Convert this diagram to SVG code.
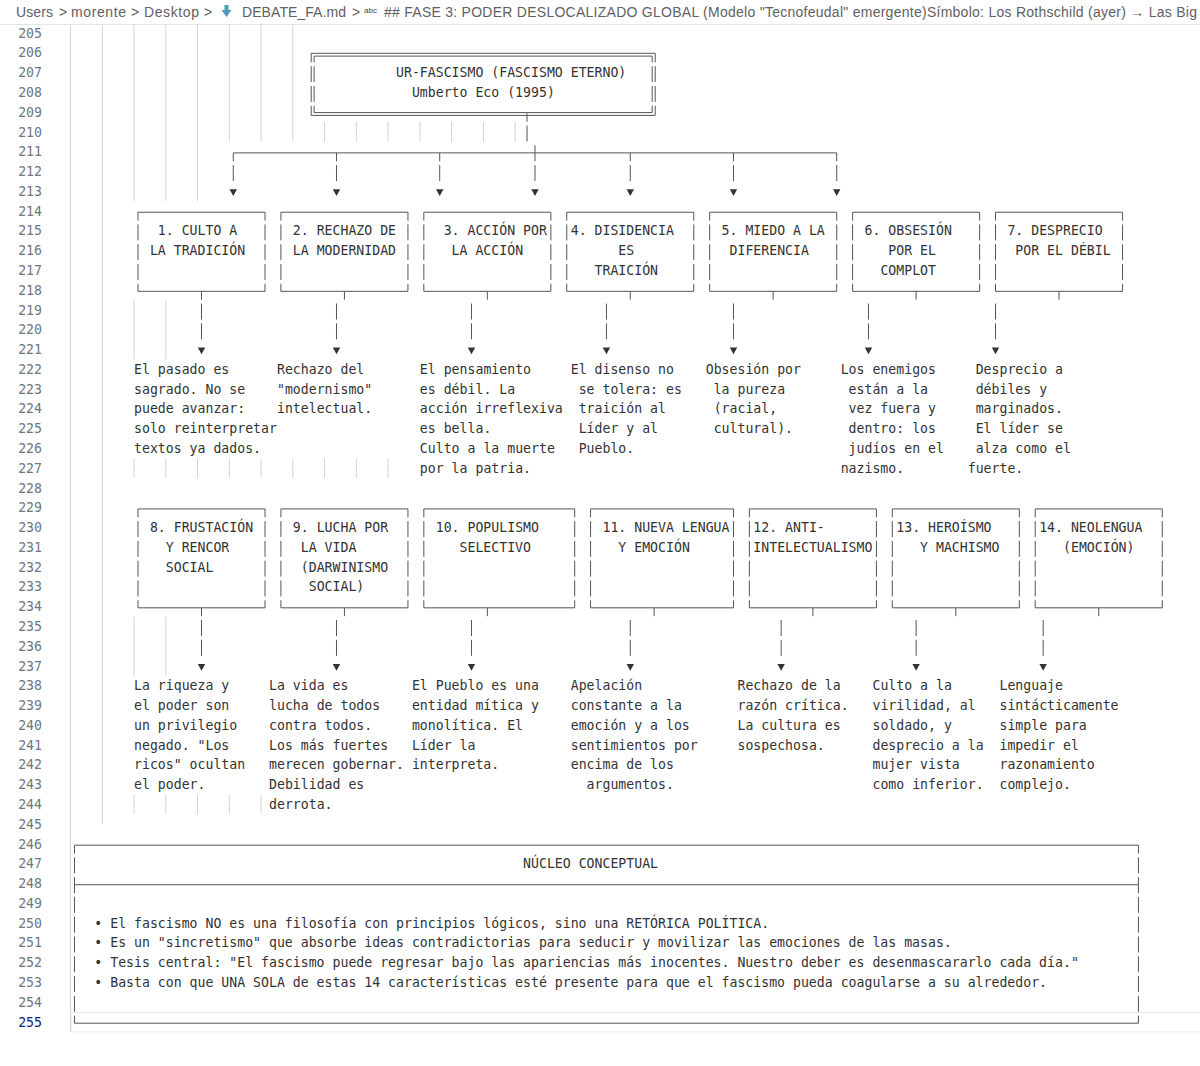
<svg xmlns="http://www.w3.org/2000/svg" xmlns:xlink="http://www.w3.org/1999/xlink" width="1200" height="1066" viewBox="0 0 1200 1066">
<style>
.t{font-family:"DejaVu Sans Mono","Liberation Mono",monospace;font-size:13.2px;fill:#333}
.ln{font-family:"DejaVu Sans Mono","Liberation Mono",monospace;font-size:13.2px;fill:#6e7681;text-anchor:end}
.bc{font-family:"Liberation Sans",Arial,sans-serif;font-size:14px;fill:#616161}
.g{stroke:#d4d4d4;stroke-width:1;fill:none}
.h{stroke:#555;stroke-width:1;fill:none}
.v{stroke:#555;stroke-width:1;fill:none;stroke-dasharray:15.98 3.8;stroke-dashoffset:7.59}
.v0{stroke:#555;stroke-width:1;fill:none;stroke-dasharray:15.98 3.8}
.ar{fill:#333}
</style>
<defs>
<path id="tri" d="M-3.7,-1.9 L3.7,-1.9 L0,4.8 Z"/>
</defs>
<rect width="1200" height="1066" fill="#fff"/>

<g id="chrome">
<text class="bc" x="16" y="17" textLength="37">Users</text>
<text class="bc" x="59" y="17" font-size="13">&gt;</text>
<text class="bc" x="71" y="17" textLength="55">morente</text>
<text class="bc" x="131" y="17" font-size="13">&gt;</text>
<text class="bc" x="144" y="17" textLength="55">Desktop</text>
<text class="bc" x="204" y="17" font-size="13">&gt;</text>
<path d="M224.5,5 H228.5 V10 H231.5 L226.5,17 L221.5,10 H224.5 Z" fill="#519aba"/>
<text class="bc" x="242" y="17" textLength="104">DEBATE_FA.md</text>
<text class="bc" x="352" y="17" font-size="13">&gt;</text>
<text x="364" y="13" font-family="Liberation Sans,Arial,sans-serif" font-size="8" fill="#424242">abc</text>
<text class="bc" x="384" y="17" textLength="813">## FASE 3: PODER DESLOCALIZADO GLOBAL (Modelo "Tecnofeudal" emergente)Símbolo: Los Rothschild (ayer) → Las Big</text>
<line x1="0" y1="24.5" x2="1200" y2="24.5" stroke="#e5e5e5"/>
<rect x="71" y="1012.5" width="1135" height="19.3" fill="none" stroke="#eaeaea"/>
</g>

<g id="line-numbers">
<text class="ln" x="42" y="37.6">205</text>
<text class="ln" x="42" y="57.38">206</text>
<text class="ln" x="42" y="77.16">207</text>
<text class="ln" x="42" y="96.94">208</text>
<text class="ln" x="42" y="116.72">209</text>
<text class="ln" x="42" y="136.5">210</text>
<text class="ln" x="42" y="156.28">211</text>
<text class="ln" x="42" y="176.06">212</text>
<text class="ln" x="42" y="195.84">213</text>
<text class="ln" x="42" y="215.62">214</text>
<text class="ln" x="42" y="235.4">215</text>
<text class="ln" x="42" y="255.18">216</text>
<text class="ln" x="42" y="274.96">217</text>
<text class="ln" x="42" y="294.74">218</text>
<text class="ln" x="42" y="314.52">219</text>
<text class="ln" x="42" y="334.3">220</text>
<text class="ln" x="42" y="354.08">221</text>
<text class="ln" x="42" y="373.86">222</text>
<text class="ln" x="42" y="393.64">223</text>
<text class="ln" x="42" y="413.42">224</text>
<text class="ln" x="42" y="433.2">225</text>
<text class="ln" x="42" y="452.98">226</text>
<text class="ln" x="42" y="472.76">227</text>
<text class="ln" x="42" y="492.54">228</text>
<text class="ln" x="42" y="512.32">229</text>
<text class="ln" x="42" y="532.1">230</text>
<text class="ln" x="42" y="551.88">231</text>
<text class="ln" x="42" y="571.66">232</text>
<text class="ln" x="42" y="591.44">233</text>
<text class="ln" x="42" y="611.22">234</text>
<text class="ln" x="42" y="631">235</text>
<text class="ln" x="42" y="650.78">236</text>
<text class="ln" x="42" y="670.56">237</text>
<text class="ln" x="42" y="690.34">238</text>
<text class="ln" x="42" y="710.12">239</text>
<text class="ln" x="42" y="729.9">240</text>
<text class="ln" x="42" y="749.68">241</text>
<text class="ln" x="42" y="769.46">242</text>
<text class="ln" x="42" y="789.24">243</text>
<text class="ln" x="42" y="809.02">244</text>
<text class="ln" x="42" y="828.8">245</text>
<text class="ln" x="42" y="848.58">246</text>
<text class="ln" x="42" y="868.36">247</text>
<text class="ln" x="42" y="888.14">248</text>
<text class="ln" x="42" y="907.92">249</text>
<text class="ln" x="42" y="927.7">250</text>
<text class="ln" x="42" y="947.48">251</text>
<text class="ln" x="42" y="967.26">252</text>
<text class="ln" x="42" y="987.04">253</text>
<text class="ln" x="42" y="1006.82">254</text>
<text class="ln" x="42" y="1026.6" fill="#0b216f" style="fill:#0b216f">255</text>
</g>

<g id="indent-guides">
<path class="g" d="M70.5,25 V1032 M102.3,25 V824"/>
<path class="g" d="M134,25 V201.1 M165.8,25 V201.1 M197.5,25 V201.1 M229.3,25 V141.8 M261.1,25 V141.8 M292.8,25 V141.8"/>
<path class="g" d="M324.6,122 V141.8 M356.3,122 V141.8 M388.1,122 V141.8 M419.9,122 V141.8 M451.6,122 V141.8 M483.4,122 V141.8 M515.1,122 V141.8"/>
<path class="g" d="M134,300 V359.4 M165.8,300 V359.4"/>
<path class="g" d="M134,458.3 V478.1 M165.8,458.3 V478.1 M197.5,458.3 V478.1 M229.3,458.3 V478.1 M261.1,458.3 V478.1 M292.8,458.3 V478.1 M324.6,458.3 V478.1 M356.3,458.3 V478.1 M388.1,458.3 V478.1"/>
<path class="g" d="M134,616.5 V675.9 M165.8,616.5 V675.9"/>
<path class="g" d="M134,794.5 V814.3 M165.8,794.5 V814.3 M197.5,794.5 V814.3 M229.3,794.5 V814.3 M261.1,794.5 V814.3"/>
</g>

<g id="top">
<path class="h" d="M311.2,53.3 H655.2 M314.1,56.1 H652.2 M311.2,115.4 H655.2 M314.1,112.6 H652.2"/>
<path class="v" style="stroke-dashoffset:6.89" d="M311.2,53.3 V115.4 M655.2,53.3 V115.4"/>
<path class="v" style="stroke-dashoffset:9.69" d="M314.1,56.1 V112.6 M652.2,56.1 V112.6"/>
<text class="t" x="396.04" y="77.16">UR-FASCISMO (FASCISMO ETERNO)</text>
<text class="t" x="411.92" y="96.94">Umberto Eco (1995)</text>
</g>

<g id="connectors">
<path class="v" d="M527.05,113.32 V141.49"/>
<path class="h" d="M233.27,152.88 H836.71"/>
<path class="v" d="M233.27,152.88 V181.05 M336.49,152.88 V181.05 M439.71,152.88 V181.05 M630.27,152.88 V181.05 M733.49,152.88 V181.05 M836.71,152.88 V181.05"/>
<path class="v0" d="M534.99,145.29 V181.05"/>
<g class="ar">
<use xlink:href="#tri" x="233.27" y="191.24"/><use xlink:href="#tri" x="336.49" y="191.24"/><use xlink:href="#tri" x="439.71" y="191.24"/><use xlink:href="#tri" x="534.99" y="191.24"/><use xlink:href="#tri" x="630.27" y="191.24"/><use xlink:href="#tri" x="733.49" y="191.24"/><use xlink:href="#tri" x="836.71" y="191.24"/>
</g>
<path class="h" d="M201.51,291.34 V299.73 M344.43,291.34 V299.73 M487.35,291.34 V299.73 M630.27,291.34 V299.73 M773.19,291.34 V299.73 M916.11,291.34 V299.73 M1059.03,291.34 V299.73"/>
<path class="v0" d="M201.51,303.53 V339.29 M336.49,303.53 V339.29 M471.47,303.53 V339.29 M606.45,303.53 V339.29 M733.49,303.53 V339.29 M868.47,303.53 V339.29 M995.51,303.53 V339.29"/>
<g class="ar">
<use xlink:href="#tri" x="201.51" y="349.48"/><use xlink:href="#tri" x="336.49" y="349.48"/><use xlink:href="#tri" x="471.47" y="349.48"/><use xlink:href="#tri" x="606.45" y="349.48"/><use xlink:href="#tri" x="733.49" y="349.48"/><use xlink:href="#tri" x="868.47" y="349.48"/><use xlink:href="#tri" x="995.51" y="349.48"/>
</g>
<path class="h" d="M201.51,607.82 V616.21 M344.43,607.82 V616.21 M487.35,607.82 V616.21 M654.09,607.82 V616.21 M812.89,607.82 V616.21 M955.81,607.82 V616.21 M1098.73,607.82 V616.21"/>
<path class="v0" d="M201.51,620.01 V655.77 M336.49,620.01 V655.77 M471.47,620.01 V655.77 M630.27,620.01 V655.77 M781.13,620.01 V655.77 M916.11,620.01 V655.77 M1043.15,620.01 V655.77"/>
<g class="ar">
<use xlink:href="#tri" x="201.51" y="665.96"/><use xlink:href="#tri" x="336.49" y="665.96"/><use xlink:href="#tri" x="471.47" y="665.96"/><use xlink:href="#tri" x="630.27" y="665.96"/><use xlink:href="#tri" x="781.13" y="665.96"/><use xlink:href="#tri" x="916.11" y="665.96"/><use xlink:href="#tri" x="1043.15" y="665.96"/>
</g>
</g>

<g id="n1">
<path class="h" d="M137.99,212.22 H265.03 M137.99,291.34 H265.03"/>
<path class="v" d="M137.99,212.22 V291.34 M265.03,212.22 V291.34"/>
<text class="t" x="157.84" y="235.4">1. CULTO A</text>
<text class="t" x="149.9" y="255.18">LA TRADICIÓN</text>
</g>
<g id="n2">
<path class="h" d="M280.91,212.22 H407.95 M280.91,291.34 H407.95"/>
<path class="v" d="M280.91,212.22 V291.34 M407.95,212.22 V291.34"/>
<text class="t" x="292.82" y="235.4">2. RECHAZO DE</text>
<text class="t" x="292.82" y="255.18">LA MODERNIDAD</text>
</g>
<g id="n3">
<path class="h" d="M423.83,212.22 H550.87 M423.83,291.34 H550.87"/>
<path class="v" d="M423.83,212.22 V291.34 M550.87,212.22 V291.34"/>
<text class="t" x="443.68" y="235.4">3. ACCIÓN POR</text>
<text class="t" x="451.62" y="255.18">LA ACCIÓN</text>
</g>
<g id="n4">
<path class="h" d="M566.75,212.22 H693.79 M566.75,291.34 H693.79"/>
<path class="v" d="M566.75,212.22 V291.34 M693.79,212.22 V291.34"/>
<text class="t" x="570.72" y="235.4">4. DISIDENCIA</text>
<text class="t" x="618.36" y="255.18">ES</text>
<text class="t" x="594.54" y="274.96">TRAICIÓN</text>
</g>
<g id="n5">
<path class="h" d="M709.67,212.22 H836.71 M709.67,291.34 H836.71"/>
<path class="v" d="M709.67,212.22 V291.34 M836.71,212.22 V291.34"/>
<text class="t" x="721.58" y="235.4">5. MIEDO A LA</text>
<text class="t" x="729.52" y="255.18">DIFERENCIA</text>
</g>
<g id="n6">
<path class="h" d="M852.59,212.22 H979.63 M852.59,291.34 H979.63"/>
<path class="v" d="M852.59,212.22 V291.34 M979.63,212.22 V291.34"/>
<text class="t" x="864.5" y="235.4">6. OBSESIÓN</text>
<text class="t" x="888.32" y="255.18">POR EL</text>
<text class="t" x="880.38" y="274.96">COMPLOT</text>
</g>
<g id="n7">
<path class="h" d="M995.51,212.22 H1122.55 M995.51,291.34 H1122.55"/>
<path class="v" d="M995.51,212.22 V291.34 M1122.55,212.22 V291.34"/>
<text class="t" x="1007.42" y="235.4">7. DESPRECIO</text>
<text class="t" x="1015.36" y="255.18">POR EL DÉBIL</text>
</g>

<g id="d1">
<text class="t" x="134.02" y="373.86">El pasado es</text>
<text class="t" x="134.02" y="393.64">sagrado. No se</text>
<text class="t" x="134.02" y="413.42">puede avanzar:</text>
<text class="t" x="134.02" y="433.2">solo reinterpretar</text>
<text class="t" x="134.02" y="452.98">textos ya dados.</text>
</g>
<g id="d2">
<text class="t" x="276.94" y="373.86">Rechazo del</text>
<text class="t" x="276.94" y="393.64">"modernismo"</text>
<text class="t" x="276.94" y="413.42">intelectual.</text>
</g>
<g id="d3">
<text class="t" x="419.86" y="373.86">El pensamiento</text>
<text class="t" x="419.86" y="393.64">es débil. La</text>
<text class="t" x="419.86" y="413.42">acción irreflexiva</text>
<text class="t" x="419.86" y="433.2">es bella.</text>
<text class="t" x="419.86" y="452.98">Culto a la muerte</text>
<text class="t" x="419.86" y="472.76">por la patria.</text>
</g>
<g id="d4">
<text class="t" x="570.72" y="373.86">El disenso no</text>
<text class="t" x="578.66" y="393.64">se tolera: es</text>
<text class="t" x="578.66" y="413.42">traición al</text>
<text class="t" x="578.66" y="433.2">Líder y al</text>
<text class="t" x="578.66" y="452.98">Pueblo.</text>
</g>
<g id="d5">
<text class="t" x="705.7" y="373.86">Obsesión por</text>
<text class="t" x="713.64" y="393.64">la pureza</text>
<text class="t" x="713.64" y="413.42">(racial,</text>
<text class="t" x="713.64" y="433.2">cultural).</text>
</g>
<g id="d6">
<text class="t" x="840.68" y="373.86">Los enemigos</text>
<text class="t" x="848.62" y="393.64">están a la</text>
<text class="t" x="848.62" y="413.42">vez fuera y</text>
<text class="t" x="848.62" y="433.2">dentro: los</text>
<text class="t" x="848.62" y="452.98">judíos en el</text>
<text class="t" x="840.68" y="472.76">nazismo.</text>
</g>
<g id="d7">
<text class="t" x="975.66" y="373.86">Desprecio a</text>
<text class="t" x="975.66" y="393.64">débiles y</text>
<text class="t" x="975.66" y="413.42">marginados.</text>
<text class="t" x="975.66" y="433.2">El líder se</text>
<text class="t" x="975.66" y="452.98">alza como el</text>
<text class="t" x="967.72" y="472.76">fuerte.</text>
</g>

<g id="n8">
<path class="h" d="M137.99,508.92 H265.03 M137.99,607.82 H265.03"/>
<path class="v" d="M137.99,508.92 V607.82 M265.03,508.92 V607.82"/>
<text class="t" x="149.9" y="532.1">8. FRUSTACIÓN</text>
<text class="t" x="165.78" y="551.88">Y RENCOR</text>
<text class="t" x="165.78" y="571.66">SOCIAL</text>
</g>
<g id="n9">
<path class="h" d="M280.91,508.92 H407.95 M280.91,607.82 H407.95"/>
<path class="v" d="M280.91,508.92 V607.82 M407.95,508.92 V607.82"/>
<text class="t" x="292.82" y="532.1">9. LUCHA POR</text>
<text class="t" x="300.76" y="551.88">LA VIDA</text>
<text class="t" x="300.76" y="571.66">(DARWINISMO</text>
<text class="t" x="308.7" y="591.44">SOCIAL)</text>
</g>
<g id="n10">
<path class="h" d="M423.83,508.92 H574.69 M423.83,607.82 H574.69"/>
<path class="v" d="M423.83,508.92 V607.82 M574.69,508.92 V607.82"/>
<text class="t" x="435.74" y="532.1">10. POPULISMO</text>
<text class="t" x="459.56" y="551.88">SELECTIVO</text>
</g>
<g id="n11">
<path class="h" d="M590.57,508.92 H733.49 M590.57,607.82 H733.49"/>
<path class="v" d="M590.57,508.92 V607.82 M733.49,508.92 V607.82"/>
<text class="t" x="602.48" y="532.1">11. NUEVA LENGUA</text>
<text class="t" x="618.36" y="551.88">Y EMOCIÓN</text>
</g>
<g id="n12">
<path class="h" d="M749.37,508.92 H876.41 M749.37,607.82 H876.41"/>
<path class="v" d="M749.37,508.92 V607.82 M876.41,508.92 V607.82"/>
<text class="t" x="753.34" y="532.1">12. ANTI-</text>
<text class="t" x="753.34" y="551.88">INTELECTUALISMO</text>
</g>
<g id="n13">
<path class="h" d="M892.29,508.92 H1019.33 M892.29,607.82 H1019.33"/>
<path class="v" d="M892.29,508.92 V607.82 M1019.33,508.92 V607.82"/>
<text class="t" x="896.26" y="532.1">13. HEROÍSMO</text>
<text class="t" x="920.08" y="551.88">Y MACHISMO</text>
</g>
<g id="n14">
<path class="h" d="M1035.21,508.92 H1162.25 M1035.21,607.82 H1162.25"/>
<path class="v" d="M1035.21,508.92 V607.82 M1162.25,508.92 V607.82"/>
<text class="t" x="1039.18" y="532.1">14. NEOLENGUA</text>
<text class="t" x="1063" y="551.88">(EMOCIÓN)</text>
</g>

<g id="d8">
<text class="t" x="134.02" y="690.34">La riqueza y</text>
<text class="t" x="134.02" y="710.12">el poder son</text>
<text class="t" x="134.02" y="729.9">un privilegio</text>
<text class="t" x="134.02" y="749.68">negado. "Los</text>
<text class="t" x="134.02" y="769.46">ricos" ocultan</text>
<text class="t" x="134.02" y="789.24">el poder.</text>
</g>
<g id="d9">
<text class="t" x="269" y="690.34">La vida es</text>
<text class="t" x="269" y="710.12">lucha de todos</text>
<text class="t" x="269" y="729.9">contra todos.</text>
<text class="t" x="269" y="749.68">Los más fuertes</text>
<text class="t" x="269" y="769.46">merecen gobernar.</text>
<text class="t" x="269" y="789.24">Debilidad es</text>
<text class="t" x="269" y="809.02">derrota.</text>
</g>
<g id="d10">
<text class="t" x="411.92" y="690.34">El Pueblo es una</text>
<text class="t" x="411.92" y="710.12">entidad mítica y</text>
<text class="t" x="411.92" y="729.9">monolítica. El</text>
<text class="t" x="411.92" y="749.68">Líder la</text>
<text class="t" x="411.92" y="769.46">interpreta.</text>
</g>
<g id="d11">
<text class="t" x="570.72" y="690.34">Apelación</text>
<text class="t" x="570.72" y="710.12">constante a la</text>
<text class="t" x="570.72" y="729.9">emoción y a los</text>
<text class="t" x="570.72" y="749.68">sentimientos por</text>
<text class="t" x="570.72" y="769.46">encima de los</text>
<text class="t" x="586.6" y="789.24">argumentos.</text>
</g>
<g id="d12">
<text class="t" x="737.46" y="690.34">Rechazo de la</text>
<text class="t" x="737.46" y="710.12">razón crítica.</text>
<text class="t" x="737.46" y="729.9">La cultura es</text>
<text class="t" x="737.46" y="749.68">sospechosa.</text>
</g>
<g id="d13">
<text class="t" x="872.44" y="690.34">Culto a la</text>
<text class="t" x="872.44" y="710.12">virilidad, al</text>
<text class="t" x="872.44" y="729.9">soldado, y</text>
<text class="t" x="872.44" y="749.68">desprecio a la</text>
<text class="t" x="872.44" y="769.46">mujer vista</text>
<text class="t" x="872.44" y="789.24">como inferior.</text>
</g>
<g id="d14">
<text class="t" x="999.48" y="690.34">Lenguaje</text>
<text class="t" x="999.48" y="710.12">sintácticamente</text>
<text class="t" x="999.48" y="729.9">simple para</text>
<text class="t" x="999.48" y="749.68">impedir el</text>
<text class="t" x="999.48" y="769.46">razonamiento</text>
<text class="t" x="999.48" y="789.24">complejo.</text>
</g>

<g id="core">
<path class="h" d="M74.47,845.18 H1138.43 M74.47,884.74 H1138.43 M74.47,1023.2 H1138.43"/>
<path class="v" d="M74.47,845.18 V1023.2 M1138.43,845.18 V1023.2"/>
<text class="t" x="523.08" y="868.36">NÚCLEO CONCEPTUAL</text>
<text class="t" x="94.32" y="927.7">• El fascismo NO es una filosofía con principios lógicos, sino una RETÓRICA POLÍTICA.</text>
<text class="t" x="94.32" y="947.48">• Es un "sincretismo" que absorbe ideas contradictorias para seducir y movilizar las emociones de las masas.</text>
<text class="t" x="94.32" y="967.26">• Tesis central: "El fascismo puede regresar bajo las apariencias más inocentes. Nuestro deber es desenmascararlo cada día."</text>
<text class="t" x="94.32" y="987.04">• Basta con que UNA SOLA de estas 14 características esté presente para que el fascismo pueda coagularse a su alrededor.</text>
</g>
</svg>
